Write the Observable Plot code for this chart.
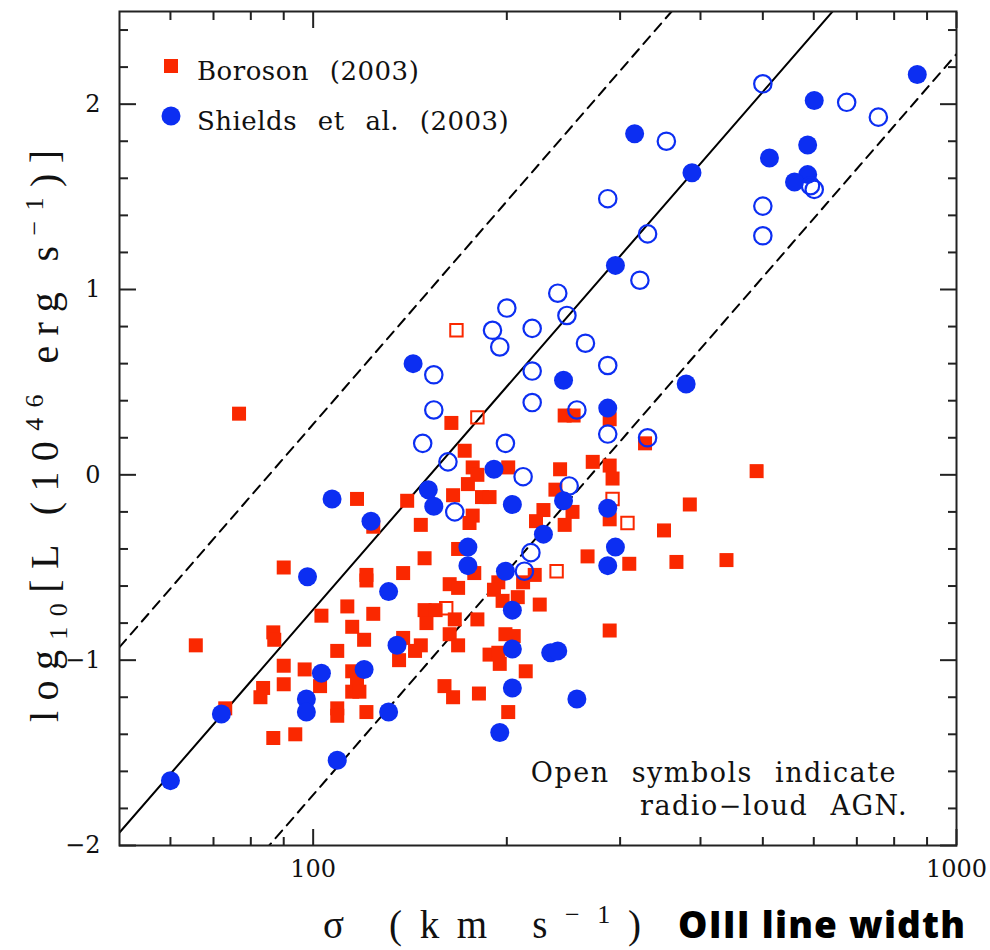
<!DOCTYPE html>
<html><head><meta charset="utf-8">
<script src="https://cdn.jsdelivr.net/npm/d3@7"></script>
<script src="https://cdn.jsdelivr.net/npm/@observablehq/plot@0.6"></script>
<style>
html,body{margin:0;padding:0;background:#fff}
#chart{width:990px;height:950px}
</style>
</head><body><div id="chart"></div>
<script>
// Boroson (2003), radio-quiet (filled squares): sigma [km/s], log10 L
const borosonSigma = [76.7,164,246,254,289,328,172,177,180,201,174,165,183,188,117,140,177,175,147,124,272,289,292,242,238,489,228,222,253,246,289,385,351,168,149,90,121,121,138,178,221,212,267,310,367,439,163,168,194,191,197,208,225,113,124,103,149,155,166,150,180,115,120,163,168,138,147,144,136,109,115,117,115,118,160,165,181,109,109,121,65.7,86.7,87,90,97,83.6,82.8,90,102.5,73,86.7,93.8,199,205,188,194,195,214,201,289];
const borosonL     = [0.33,0.28,0.32,0.32,0.30,0.17,0.13,0.04,0.00,0.04,-0.05,-0.11,-0.12,-0.12,-0.13,-0.14,-0.22,-0.26,-0.27,-0.28,0.07,0.05,-0.02,0.03,-0.08,0.02,-0.19,-0.25,-0.20,-0.27,-0.24,-0.16,-0.30,-0.40,-0.45,-0.50,-0.54,-0.57,-0.53,-0.53,-0.54,-0.58,-0.44,-0.48,-0.47,-0.46,-0.59,-0.61,-0.58,-0.62,-0.68,-0.66,-0.70,-0.71,-0.75,-0.76,-0.73,-0.73,-0.78,-0.80,-0.78,-0.82,-0.89,-0.86,-0.92,-0.88,-0.92,-0.95,-1.00,-0.95,-1.06,-1.11,-1.17,-1.17,-1.14,-1.20,-1.18,-1.26,-1.30,-1.28,-0.92,-0.85,-0.89,-1.03,-1.05,-1.15,-1.20,-1.13,-1.14,-1.26,-1.42,-1.40,-0.86,-0.87,-0.97,-0.96,-1.02,-1.06,-1.28,-0.84];
// Boroson (2003), radio-loud (open squares)
const borosonRLSigma = [167,180,292,308,239,161];
const borosonRLL     = [0.78,0.31,-0.13,-0.26,-0.52,-0.72];
// Shields et al. (2003), radio-quiet (filled circles)
const shieldsSigma = [869,601,316,587,512,388,587,560,295,143,245,380,287,191,151,154,204,107,123,245,287,228,174,174,199,295,287,98,204,131,135,204,234,240,120,103,204,257,131,97.6,97.6,72,60,109,195];
const shieldsL     = [2.16,2.02,1.84,1.78,1.71,1.63,1.62,1.58,1.13,0.60,0.51,0.49,0.36,0.03,-0.08,-0.17,-0.16,-0.13,-0.25,-0.14,-0.18,-0.32,-0.39,-0.49,-0.52,-0.39,-0.49,-0.55,-0.73,-0.63,-0.92,-0.94,-0.96,-0.95,-1.05,-1.07,-1.15,-1.21,-1.28,-1.21,-1.28,-1.29,-1.65,-1.54,-1.39];
// Shields et al. (2003), radio-loud (open circles)
const shieldsRLSigma = [500,675,756,354,593,601,287,500,331,500,322,240,200,248,190,219,195,265,154,219,287,154,219,257,287,331,148,199,162,212,166,250,218,213];
const shieldsRLL     = [2.11,2.01,1.93,1.80,1.56,1.54,1.49,1.45,1.30,1.29,1.05,0.98,0.90,0.86,0.78,0.79,0.69,0.71,0.54,0.56,0.59,0.35,0.39,0.35,0.22,0.20,0.17,0.17,0.07,-0.01,-0.20,-0.06,-0.42,-0.52];
const fitSigma = [50, 1000];
const fitL = [-1.93, 3.27];
const bandOffsets = [1, -1];
// Axis ticks
const xMajorTicks = [100, 1000];
const xMinorTicks = [60, 70, 80, 90, 200, 300, 400, 500, 600, 700, 800, 900];
const yMajorTicks = [-2, -1, 0, 1, 2];
const yMinorTicks = [-1.8,-1.6,-1.4,-1.2,-0.8,-0.6,-0.4,-0.2,0.2,0.4,0.6,0.8,1.2,1.4,1.6,1.8,2.2,2.4];
// Text
const legendLabels = ["Boroson (2003)", "Shields et al. (2003)"];
const noteLines = ["Open symbols indicate", "radio\u2212loud AGN."];

const RED = "#fa2800";
const BLUE = "#0c2ef2";
const zip = (xs, ys) => xs.map((x, i) => ({sigma: x, L: ys[i]}));
const boroson = zip(borosonSigma, borosonL);
const borosonRL = zip(borosonRLSigma, borosonRLL);
const shields = zip(shieldsSigma, shieldsL);
const shieldsRL = zip(shieldsRLSigma, shieldsRLL);
const fit = zip(fitSigma, fitL);
const bands = bandOffsets.map(o => zip(fitSigma, fitL.map(v => v + o)));

const fmtY = d => d < 0 ? "\u2212" + Math.abs(d) : String(d);
const blank = () => "";
const tickStyle = {stroke: "#222", strokeWidth: 2, label: null};

const plot = Plot.plot({
  width: 990, height: 950,
  marginLeft: 119, marginRight: 34, marginTop: 11, marginBottom: 105,
  x: {type: "log", domain: [50, 1000], label: null},
  y: {domain: [-2, 2.5], label: null},
  style: {fontFamily: "DejaVu Serif", fontSize: "24px", color: "#111", background: "#fff"},
  marks: [
    Plot.line(fit, {x: "sigma", y: "L", stroke: "#000", strokeWidth: 2, clip: true}),
    ...bands.map(b => Plot.line(b, {x: "sigma", y: "L", stroke: "#000", strokeWidth: 2, strokeDasharray: "10,7", clip: true})),
    Plot.dot(boroson, {x: "sigma", y: "L", symbol: "square", r: 7.9, fill: RED}),
    Plot.dot(borosonRL, {x: "sigma", y: "L", symbol: "square", r: 7.0, fill: "none", stroke: RED, strokeWidth: 2}),
    Plot.dot(shields, {x: "sigma", y: "L", r: 9.5, fill: BLUE}),
    Plot.dot(shieldsRL, {x: "sigma", y: "L", r: 8.7, fill: "none", stroke: BLUE, strokeWidth: 2.2}),
    Plot.frame({stroke: "#222", strokeWidth: 2}),
    Plot.axisX({anchor: "bottom", ticks: xMinorTicks, tickSize: -8, tickFormat: blank, ...tickStyle}),
    Plot.axisX({anchor: "top", ticks: xMinorTicks, tickSize: -8, tickFormat: blank, ...tickStyle}),
    Plot.axisX({anchor: "bottom", ticks: xMajorTicks, tickSize: -16, tickFormat: blank, ...tickStyle}),
    Plot.axisX({anchor: "top", ticks: xMajorTicks, tickSize: -16, tickFormat: blank, ...tickStyle}),
    Plot.axisX({anchor: "bottom", ticks: xMajorTicks, tickSize: 0, tickPadding: 14, tickFormat: d => String(d), label: null}),
    Plot.axisY({anchor: "left", ticks: yMinorTicks, tickSize: -9, tickFormat: blank, ...tickStyle}),
    Plot.axisY({anchor: "right", ticks: yMinorTicks, tickSize: -9, tickFormat: blank, ...tickStyle}),
    Plot.axisY({anchor: "left", ticks: yMajorTicks, tickSize: -17, tickFormat: blank, ...tickStyle}),
    Plot.axisY({anchor: "right", ticks: yMajorTicks, tickSize: -17, tickFormat: blank, ...tickStyle}),
    Plot.axisY({anchor: "left", ticks: yMajorTicks, tickSize: 0, tickPadding: 19, tickFormat: fmtY, label: null})
  ]
});

const svg = d3.select(plot);
const ink = "#111";

// Legend
svg.append("rect").attr("x", 164).attr("y", 59).attr("width", 14).attr("height", 14).attr("fill", RED);
svg.append("circle").attr("cx", 171).attr("cy", 116).attr("r", 9.5).attr("fill", BLUE);
[80, 130].forEach((y, i) => {
  svg.append("text").attr("x", 197).attr("y", y).attr("text-anchor", "start")
    .attr("font-family", "DejaVu Serif").attr("font-size", 26)
    .attr("letter-spacing", 0.5).attr("word-spacing", 12)
    .attr("fill", ink).text(legendLabels[i]);
});

// Note
[[897, 782], [908, 815]].forEach(([x, y], i) => {
  svg.append("text").attr("x", x).attr("y", y).attr("text-anchor", "end")
    .attr("font-family", "DejaVu Serif").attr("font-size", 27)
    .attr("letter-spacing", 1.5).attr("word-spacing", 12)
    .attr("fill", ink).text(noteLines[i]);
});

// Y axis label
const yl = svg.append("text")
  .attr("transform", "translate(58,722) rotate(-90)")
  .attr("text-anchor", "start")
  .attr("font-family", "Liberation Serif").attr("font-size", 40)
  .attr("textLength", 572).attr("lengthAdjust", "spacing")
  .attr("fill", ink);
yl.append("tspan").text("log");
yl.append("tspan").attr("font-size", 26).attr("dy", 9).text("10");
yl.append("tspan").attr("dy", -9).text("[L (10");
yl.append("tspan").attr("font-size", 26).attr("dy", -15).text("46");
yl.append("tspan").attr("dy", 15).text(" erg s");
yl.append("tspan").attr("font-size", 26).attr("dy", -15).text("\u22121");
yl.append("tspan").attr("dy", 15).text(")]");

// X axis label
const xl = svg.append("text")
  .attr("x", 323).attr("y", 938)
  .attr("text-anchor", "start")
  .attr("font-family", "Liberation Serif").attr("font-size", 39)
  .attr("textLength", 318).attr("lengthAdjust", "spacing")
  .attr("fill", ink);
xl.append("tspan").text("\u03c3 (km s");
xl.append("tspan").attr("font-size", 26).attr("dy", -15).text("\u22121");
xl.append("tspan").attr("dy", 15).text(")");

svg.append("text").attr("x", 678).attr("y", 938).attr("text-anchor", "start")
  .attr("font-family", "Open Sans").attr("font-weight", 800).attr("font-size", 37)
  .attr("letter-spacing", 1.2)
  .attr("fill", "#000").text("OIII line width");

document.getElementById("chart").appendChild(plot);
</script>
</body></html>
